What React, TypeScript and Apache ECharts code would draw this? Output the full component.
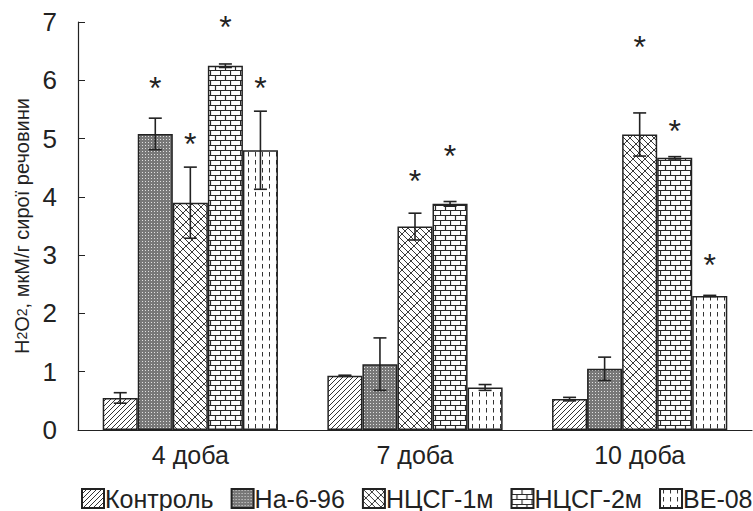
import React, { useEffect, useRef } from "react";
import * as echarts from "echarts";

const categories = ["4 доба", "7 доба", "10 доба"];
const seriesNames = ["Контроль", "На-6-96", "НЦСГ-1м", "НЦСГ-2м", "ВЕ-08"];

const controlValues = [0.55, 0.93, 0.53];
const na696Values = [5.08, 1.13, 1.05];
const ncsg1Values = [3.9, 3.49, 5.07];
const ncsg2Values = [6.25, 3.88, 4.67];
const be08Values = [4.8, 0.73, 2.3];

const controlErr = [0.09, 0.01, 0.03];
const na696Err = [0.27, 0.45, 0.2];
const ncsg1Err = [0.61, 0.23, 0.37];
const ncsg2Err = [0.03, 0.04, 0.02];
const be08Err = [0.67, 0.05, 0.01];

// height (in axis units) of the significance asterisk, null = none
const controlStar = [null, null, null];
const na696Star = [5.98, null, null];
const ncsg1Star = [5.02, 4.4, 6.7];
const ncsg2Star = [7.04, 4.82, 5.25];
const be08Star = [5.98, null, 2.95];

const yTicks = { min: 0, max: 7, interval: 1 };

const FONT = "'Liberation Sans', Arial, sans-serif";
const INK = "#222";

function tile(w: number, h: number, draw: (c: CanvasRenderingContext2D) => void) {
  const c = document.createElement("canvas");
  c.width = w;
  c.height = h;
  const ctx = c.getContext("2d") as CanvasRenderingContext2D;
  ctx.fillStyle = "#fff";
  ctx.fillRect(0, 0, w, h);
  draw(ctx);
  return { image: c, repeat: "repeat", imageWidth: w, imageHeight: h } as any;
}

function makePatterns() {
  const hatch = tile(5, 5, (c) => {
    c.strokeStyle = "#333";
    c.lineWidth = 1;
    for (const x0 of [-5, 0, 5]) {
      c.beginPath();
      c.moveTo(x0, 5);
      c.lineTo(x0 + 5, 0);
      c.stroke();
    }
  });
  const dots = tile(3, 3, (c) => {
    c.fillStyle = "#787878";
    c.fillRect(0, 0, 3, 3);
    c.fillStyle = "#e0e0e0";
    c.fillRect(1, 1, 1, 1);
  });
  const weave = tile(12, 12, (c) => {
    c.strokeStyle = "#3a3a3a";
    c.lineWidth = 1;
    const T = 12;
    for (const sx of [-T, 0, T]) {
      for (const sy of [-T, 0, T]) {
        for (const k of [0, 6]) {
          c.beginPath();
          c.moveTo(sx + k, sy + 0);
          c.lineTo(sx + k + T, sy + T);
          c.stroke();
        }
        for (const a of [0, 6]) {
          c.beginPath();
          c.moveTo(sx + a, sy + a);
          c.lineTo(sx + a + 3, sy + a - 3);
          c.stroke();
        }
        for (const b of [3, 9]) {
          c.beginPath();
          c.moveTo(sx + b + 6, sy + b);
          c.lineTo(sx + b + 9, sy + b - 3);
          c.stroke();
        }
      }
    }
  });
  const bricks = tile(10, 10, (c) => {
    c.strokeStyle = "#2a2a2a";
    c.lineWidth = 1.2;
    c.beginPath();
    c.moveTo(0, 0.5);
    c.lineTo(10, 0.5);
    c.moveTo(0, 5.5);
    c.lineTo(10, 5.5);
    c.moveTo(0.5, 0);
    c.lineTo(0.5, 5.5);
    c.moveTo(5.5, 5.5);
    c.lineTo(5.5, 10);
    c.stroke();
  });
  const dashes = tile(7, 8, (c) => {
    c.strokeStyle = "#333";
    c.lineWidth = 1;
    c.beginPath();
    c.moveTo(3.5, 0);
    c.lineTo(3.5, 4.5);
    c.stroke();
  });
  return [hatch, dots, weave, bricks, dashes];
}

export default function App() {
  const ref = useRef<HTMLDivElement>(null);
  useEffect(() => {
    if (!ref.current) return;
    const chart = echarts.init(ref.current, undefined, { renderer: "svg" });
    const patterns = makePatterns();
    const values = [controlValues, na696Values, ncsg1Values, ncsg2Values, be08Values];
    const errs = [controlErr, na696Err, ncsg1Err, ncsg2Err, be08Err];
    const stars = [controlStar, na696Star, ncsg1Star, ncsg2Star, be08Star];
    const gapRatio = 0.22;

    const errData: number[][] = [];
    const starData: number[][] = [];
    values.forEach((arr, si) => {
      arr.forEach((v, ci) => {
        errData.push([ci, si, v, errs[si][ci]]);
        const s = stars[si][ci];
        if (s != null) starData.push([ci, si, s]);
      });
    });

    const barSeries = seriesNames.map((name, si) => ({
      name,
      type: "bar",
      data: values[si],
      barGap: "0%",
      barCategoryGap: gapRatio * 100 + "%",
      itemStyle: { color: patterns[si], borderColor: INK, borderWidth: 1.5 },
      emphasis: { disabled: true },
    }));

    const barOffset = (api: any, si: number) => {
      const band = api.size([1, 0])[0];
      const bw = (band * (1 - gapRatio)) / seriesNames.length;
      return (si - (seriesNames.length - 1) / 2) * bw;
    };

    chart.setOption({
      animation: false,
      grid: { left: 78, right: 1, top: 22, bottom: 81, containLabel: false },
      legend: {
        data: seriesNames,
        left: 81,
        top: 486,
        padding: 0,
        icon: "rect",
        itemWidth: 22,
        itemHeight: 19,
        itemGap: 17,
        textStyle: {
          fontSize: 25,
          lineHeight: 20,
          color: INK,
          fontFamily: FONT,
          padding: [0, 0, 0, -4],
        },
        selectedMode: false,
      },
      xAxis: {
        type: "category",
        data: categories,
        axisLine: { lineStyle: { color: INK, width: 1.2 } },
        axisTick: { inside: true, length: 6, lineStyle: { color: INK } },
        axisLabel: { fontSize: 25, color: INK, fontFamily: FONT, margin: 12 },
      },
      yAxis: {
        type: "value",
        min: yTicks.min,
        max: yTicks.max,
        interval: yTicks.interval,
        name: "{a|H}{s|2}{a|O}{s|2}{a|, мкМ/г сирої речовини}",
        nameLocation: "middle",
        nameGap: 44,
        nameTextStyle: {
          color: INK,
          fontFamily: FONT,
          rich: {
            a: { fontSize: 20, color: INK, fontFamily: FONT },
            s: { fontSize: 14, color: INK, fontFamily: FONT },
          },
        },
        axisLine: { show: true, lineStyle: { color: INK, width: 1.2 } },
        axisTick: { show: true, inside: true, length: 7, lineStyle: { color: INK } },
        axisLabel: { fontSize: 26, color: INK, fontFamily: FONT, margin: 21 },
        splitLine: { show: false },
      },
      series: [
        ...barSeries,
        {
          type: "custom",
          name: "err",
          data: errData,
          z: 5,
          encode: { x: 0, y: 2 },
          renderItem: (_p: any, api: any) => {
            const ci = api.value(0);
            const si = api.value(1);
            const v = api.value(2);
            const e = api.value(3);
            const cx = api.coord([ci, v])[0] + barOffset(api, si);
            const top = api.coord([ci, v + e])[1];
            const bot = api.coord([ci, v - e])[1];
            const cap = 6.5;
            const st = { stroke: INK, lineWidth: 1.6 };
            return {
              type: "group",
              children: [
                { type: "line", shape: { x1: cx, y1: top, x2: cx, y2: bot }, style: st },
                { type: "line", shape: { x1: cx - cap, y1: top, x2: cx + cap, y2: top }, style: st },
                { type: "line", shape: { x1: cx - cap, y1: bot, x2: cx + cap, y2: bot }, style: st },
              ],
            };
          },
        },
        {
          type: "custom",
          name: "stars",
          data: starData,
          z: 6,
          clip: false,
          encode: { x: 0, y: 2 },
          renderItem: (_p: any, api: any) => {
            const ci = api.value(0);
            const si = api.value(1);
            const s = api.value(2);
            const pt = api.coord([ci, s]);
            const fs = 32;
            return {
              type: "text",
              style: {
                text: "*",
                x: pt[0] + barOffset(api, si),
                y: pt[1] + fs * 0.22,
                fontSize: fs,
                fontFamily: FONT,
                fill: INK,
                align: "center",
                verticalAlign: "middle",
              },
            };
          },
        },
      ],
    });
    return () => chart.dispose();
  }, []);
  return (
    <div
      ref={ref}
      style={{ position: "fixed", left: 0, top: 0, width: 753, height: 511, background: "#fff" }}
    />
  );
}
